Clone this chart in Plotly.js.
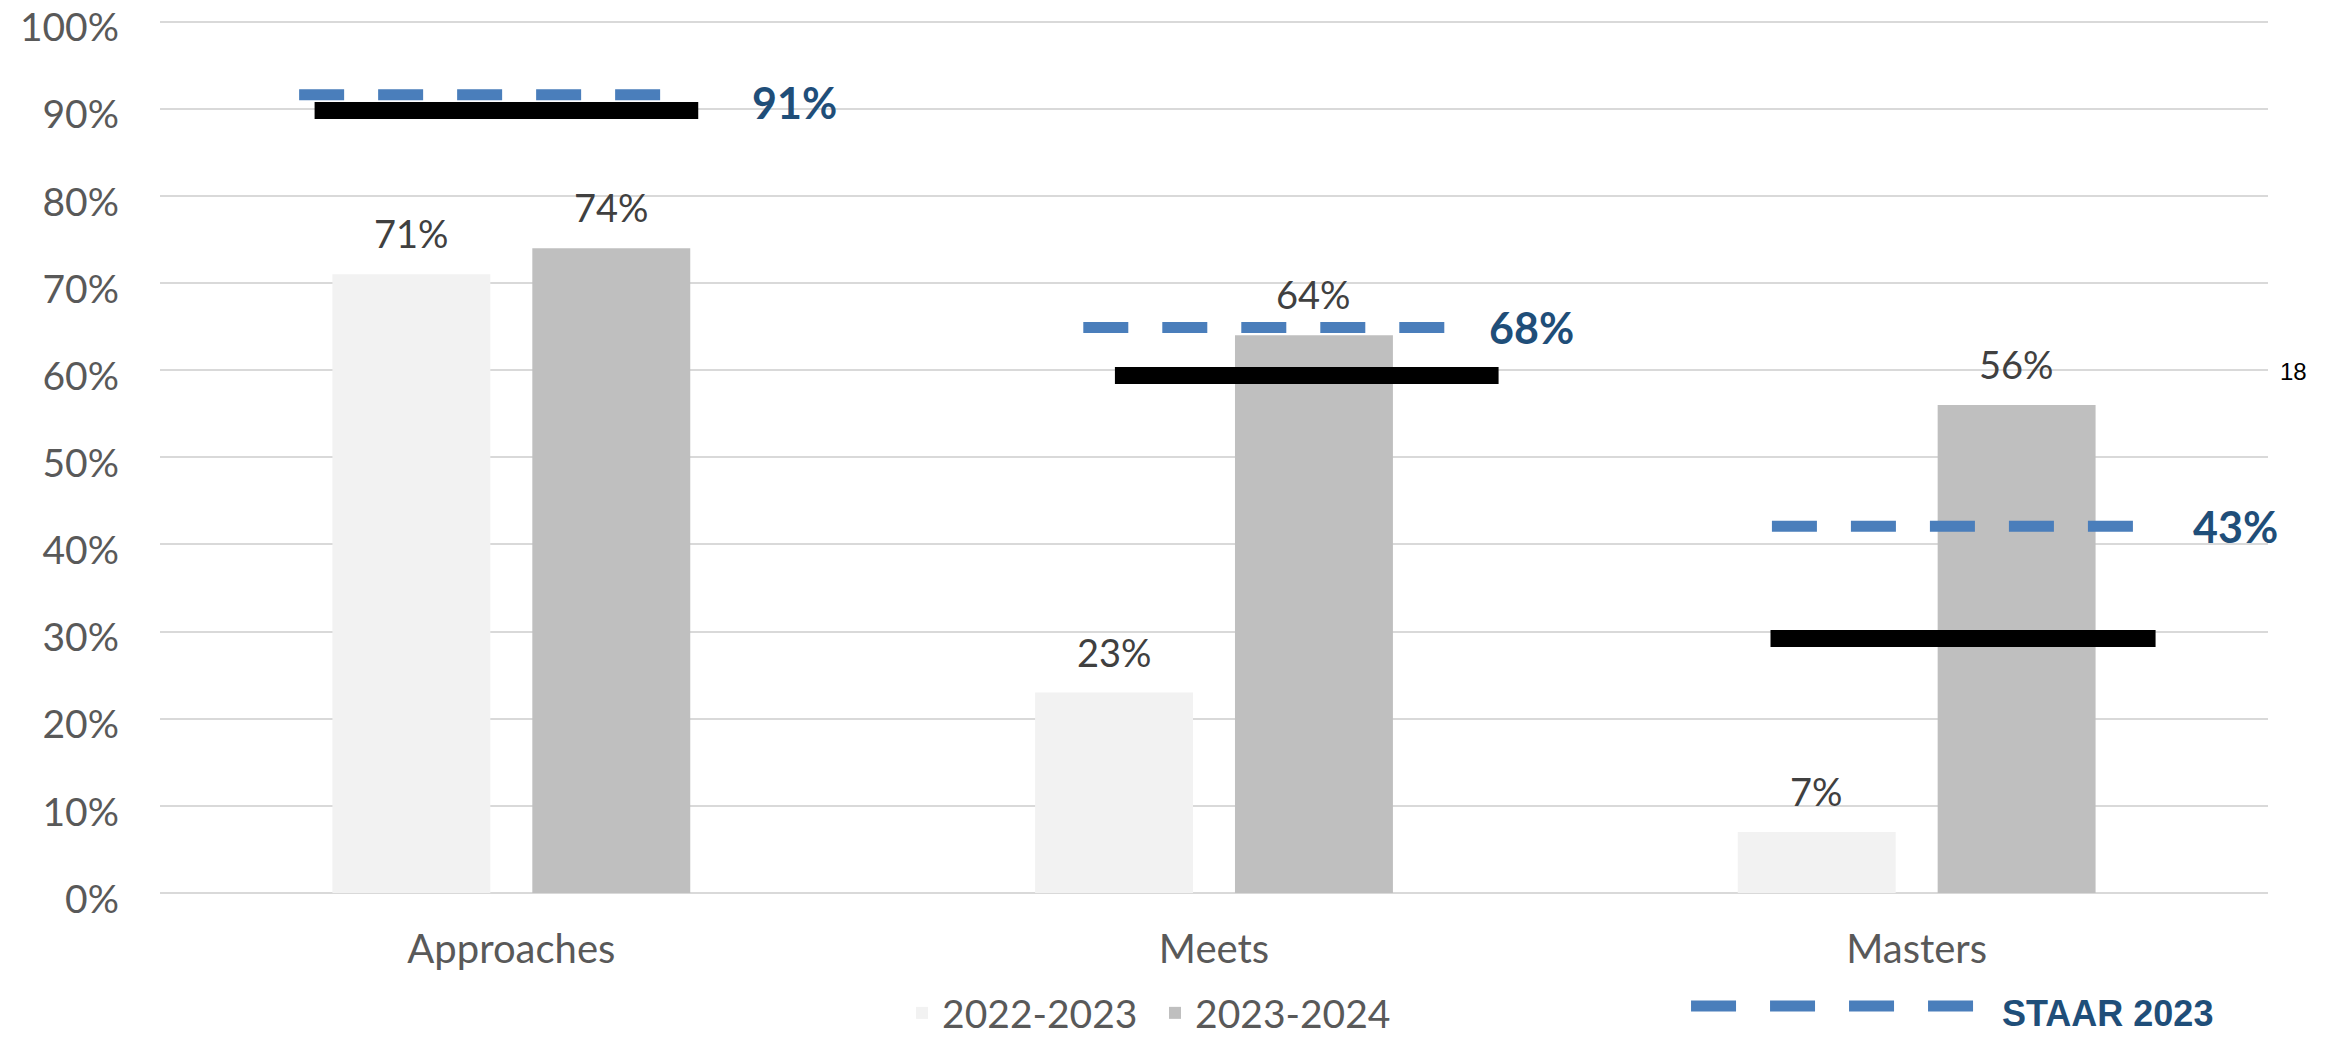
<!DOCTYPE html>
<html>
<head>
<meta charset="utf-8">
<script src="https://cdn.plot.ly/plotly-3.0.1.min.js"></script>
<style>html,body{margin:0;padding:0;background:#fff;}#chart{width:2335px;height:1040px;}</style>
</head>
<body>
<div id="chart"></div>
<script>
// ---- data ----
const categories = ['Approaches', 'Meets', 'Masters'];
const seriesNames = ['2022-2023', '2023-2024'];
const values2022 = [71, 23, 7];
const values2023 = [74, 64, 56];
const staarName = 'STAAR 2023';
const staarValues = [91.6, 64.9, 42.1];
const staarLabels = ['91%', '68%', '43%'];
const targetValues = [89.8, 59.4, 29.2];
const yTickVals = [0, 10, 20, 30, 40, 50, 60, 70, 80, 90, 100];
const yTickText = ['0%', '10%', '20%', '30%', '40%', '50%', '60%', '70%', '80%', '90%', '100%'];
const cornerNote = '18';

// ---- styles / positions ----
const FONT = 'Lato, Open Sans, sans-serif';
const BARGAP = 0.431;
const BARGROUPGAP = 0.21;
const BAR_OFFSET = (1 - BARGAP) / 4;
const STAAR_SPAN = [[-0.302, 0.215], [-0.186, 0.330], [-0.206, 0.310]];
const TARGET_SPAN = [[-0.280, 0.266], [-0.141, 0.405], [-0.208, 0.340]];
const LABEL_OFFSET = [0.339, 0.388, 0.390];
const LABEL_YSHIFT = [-8, 0, 0];
const BLUE = '#4A7EBB';
const DARKBLUE = '#1F4E79';

const traces = [
  {type: 'bar', x: categories, y: values2022, name: seriesNames[0],
   marker: {color: '#F2F2F2'}, hoverinfo: 'none'},
  {type: 'bar', x: categories, y: values2023, name: seriesNames[1],
   marker: {color: '#BFBFBF'}, hoverinfo: 'none'}
];
categories.forEach((c, i) => {
  traces.push({type: 'scatter', mode: 'lines', xaxis: 'x2', yaxis: 'y',
    x: [i + TARGET_SPAN[i][0], i + TARGET_SPAN[i][1]], y: [targetValues[i], targetValues[i]],
    line: {color: '#000000', width: 17}, showlegend: false, hoverinfo: 'none'});
  traces.push({type: 'scatter', mode: 'lines', xaxis: 'x2', yaxis: 'y',
    x: [i + STAAR_SPAN[i][0], i + STAAR_SPAN[i][1]], y: [staarValues[i], staarValues[i]],
    line: {color: BLUE, width: 11, dash: '45px,34px'}, showlegend: false, hoverinfo: 'none'});
});

const annotations = [];
[values2022, values2023].forEach((vals, s) => {
  vals.forEach((v, i) => {
    annotations.push({xref: 'x2', yref: 'y', x: i + (s === 0 ? -BAR_OFFSET : BAR_OFFSET), y: v,
      text: v + '%', showarrow: false, yanchor: 'bottom', xanchor: 'center', yshift: 16,
      font: {family: FONT, size: 38, color: '#404040'}});
  });
});
staarValues.forEach((v, i) => {
  annotations.push({xref: 'x2', yref: 'y', x: i + LABEL_OFFSET[i], y: v,
    text: staarLabels[i], showarrow: false, xanchor: 'left', yanchor: 'middle', yshift: LABEL_YSHIFT[i],
    font: {family: FONT, size: 43, color: DARKBLUE, weight: 'bold'}});
});
annotations.push({xref: 'paper', yref: 'paper', x: 0.873, y: -0.1384, xanchor: 'left', yanchor: 'middle',
  text: staarName, showarrow: false,
  font: {family: 'Liberation Sans, Arial, sans-serif', size: 36, color: DARKBLUE, weight: 'bold'}});
annotations.push({xref: 'paper', yref: 'paper', x: 1.0123, y: 0.597, xanchor: 'center', yanchor: 'middle',
  text: cornerNote, showarrow: false,
  font: {family: 'Liberation Sans, Arial, sans-serif', size: 24, color: '#000000'}});

const layout = {
  width: 2335, height: 1040, autosize: false,
  margin: {l: 160, r: 67, t: 19, b: 147, autoexpand: false},
  paper_bgcolor: '#ffffff', plot_bgcolor: '#ffffff',
  barmode: 'group', bargap: BARGAP, bargroupgap: BARGROUPGAP,
  font: {family: FONT, color: '#595959'},
  xaxis: {type: 'category', categoryorder: 'array', categoryarray: categories, range: [-0.5, 2.5],
    showgrid: false, zeroline: false, showline: false, ticks: '',
    tickfont: {family: FONT, size: 40, color: '#595959'}, ticklabelstandoff: 29, fixedrange: true},
  xaxis2: {overlaying: 'x', anchor: 'y', range: [-0.5, 2.5], visible: false, fixedrange: true},
  yaxis: {range: [0, 100.3], tickvals: yTickVals, ticktext: yTickText,
    showgrid: true, gridcolor: '#D9D9D9', gridwidth: 2,
    zeroline: true, zerolinecolor: '#D9D9D9', zerolinewidth: 2, showline: false, ticks: '',
    ticklabeloverflow: 'allow', ticklabelshift: 6,
    tickfont: {family: FONT, size: 39, color: '#595959'}, ticklabelstandoff: 40, fixedrange: true},
  showlegend: true,
  legend: {orientation: 'h', x: 0.352, xanchor: 'left', y: -0.1007, yanchor: 'top',
    font: {family: FONT, size: 39, color: '#595959'}, bgcolor: 'rgba(0,0,0,0)', itemwidth: 30,
    entrywidth: 208, traceorder: 'normal'},
  shapes: [
    {type: 'line', xref: 'paper', yref: 'paper', x0: 0.7263, x1: 0.8605, y0: -0.1293, y1: -0.1293,
     line: {color: BLUE, width: 11, dash: '45px,34px'}}
  ],
  annotations: annotations
};

Plotly.newPlot('chart', traces, layout, {staticPlot: true, displayModeBar: false});
</script>
</body>
</html>
